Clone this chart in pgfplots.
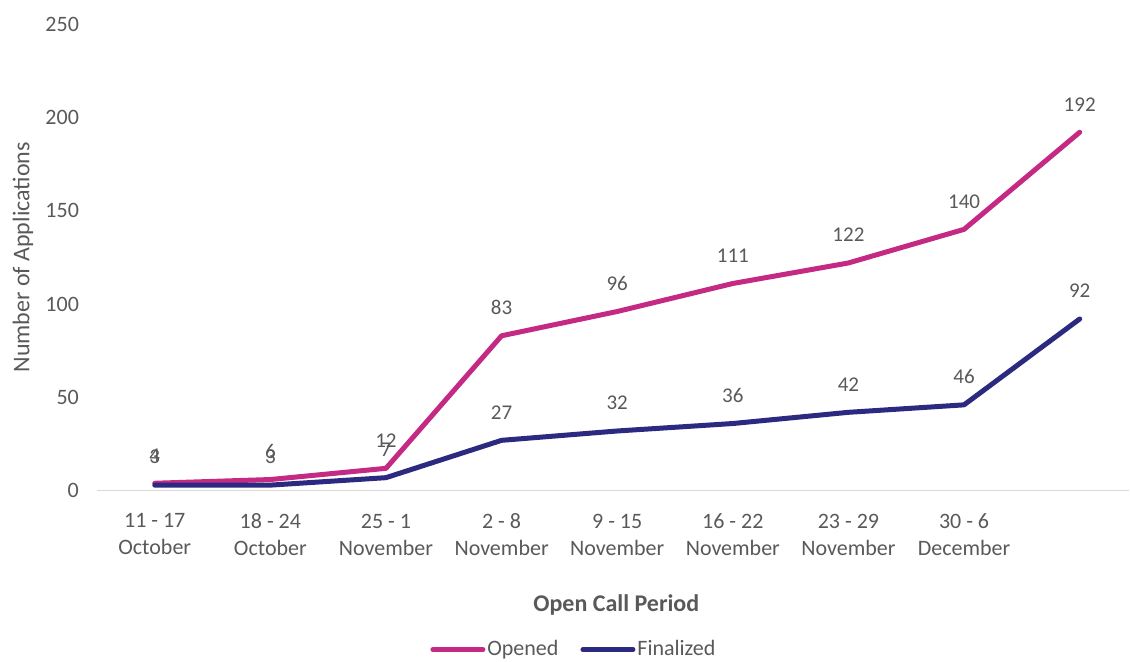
\documentclass[border=0pt]{standalone}
\usepackage{pgfplots}
\pgfplotsset{compat=1.18}
\usepackage{fontspec}
\setmainfont{Carlito}

\definecolor{txtgray}{HTML}{595959}
\definecolor{axgray}{HTML}{D9D9D9}
\definecolor{opened}{HTML}{C42A83}
\definecolor{finalized}{HTML}{2B2A80}

\begin{document}
\begin{tikzpicture}[font=\fontsize{11}{13.5}\selectfont]
\begin{axis}[
  scale only axis,
  width=516.5pt, height=233.5pt,
  at={(0,0)}, anchor=south west,
  xmin=-0.5, xmax=8.43,
  ymin=0, ymax=250,
  ytick={0,50,100,150,200,250},
  xtick={0,...,8},
  xticklabels={{11 - 17\\October},{18 - 24\\October},{25 - 1\\November},{2 - 8\\November},{9 - 15\\November},{16 - 22\\November},{23 - 29\\November},{30 - 6\\December},{}},
  xticklabel style={align=center, text=txtgray, font=\fontsize{11}{13.5}\selectfont, yshift=-8pt},
  yticklabel style={text=txtgray, font=\fontsize{11}{13.5}\selectfont, xshift=-5.5pt},
  /pgf/number format/assume math mode=true,
  major tick length=0pt,
  axis line style={draw=none},
  axis x line*=bottom,
  axis y line*=left,
  clip=false,
  every axis y label/.style={at={(axis description cs:0,0.5)}, xshift=-37pt, anchor=center, rotate=90, text=txtgray, font=\fontsize{12}{14}\selectfont},
  ylabel={Number of Applications},
  every axis x label/.style={at={(axis description cs:0.503,0)}, yshift=-57pt, anchor=center, font=\fontsize{12}{14}\selectfont\bfseries, text=txtgray},
  xlabel={Open Call Period},
  legend columns=2,
  legend style={draw=none, fill=none, at={(axis description cs:0.462,0)}, yshift=-79.5pt, anchor=center,
    text=txtgray, font=\fontsize{11}{13.5}\selectfont, /tikz/every even column/.append style={column sep=10pt},
    inner sep=0pt, nodes={inner sep=1pt}},
  legend image code/.code={\draw[#1, line width=2.5pt] (0pt,0pt) -- (25pt,0pt);},
  nodes near coords,
  every node near coord/.append style={text=txtgray, anchor=center, yshift=14pt, font=\fontsize{10.5}{12.5}\selectfont},
]
\draw[axgray, line width=0.6pt] (axis cs:-0.5,0) -- (axis cs:8.43,0);
\addplot[opened, line width=2.5pt, line join=round, line cap=round, mark=none] coordinates {
  (0,4) (1,6) (2,12) (3,83) (4,96) (5,111) (6,122) (7,140) (8,192)
};
\addlegendentry{Opened}
\addplot[finalized, line width=2.5pt, line join=round, line cap=round, mark=none] coordinates {
  (0,3) (1,3) (2,7) (3,27) (4,32) (5,36) (6,42) (7,46) (8,92)
};
\addlegendentry{Finalized}
\end{axis}
\path[use as bounding box] (-48.5pt,-85.5pt) rectangle (516.5pt,245.5pt);
\end{tikzpicture}
\end{document}
